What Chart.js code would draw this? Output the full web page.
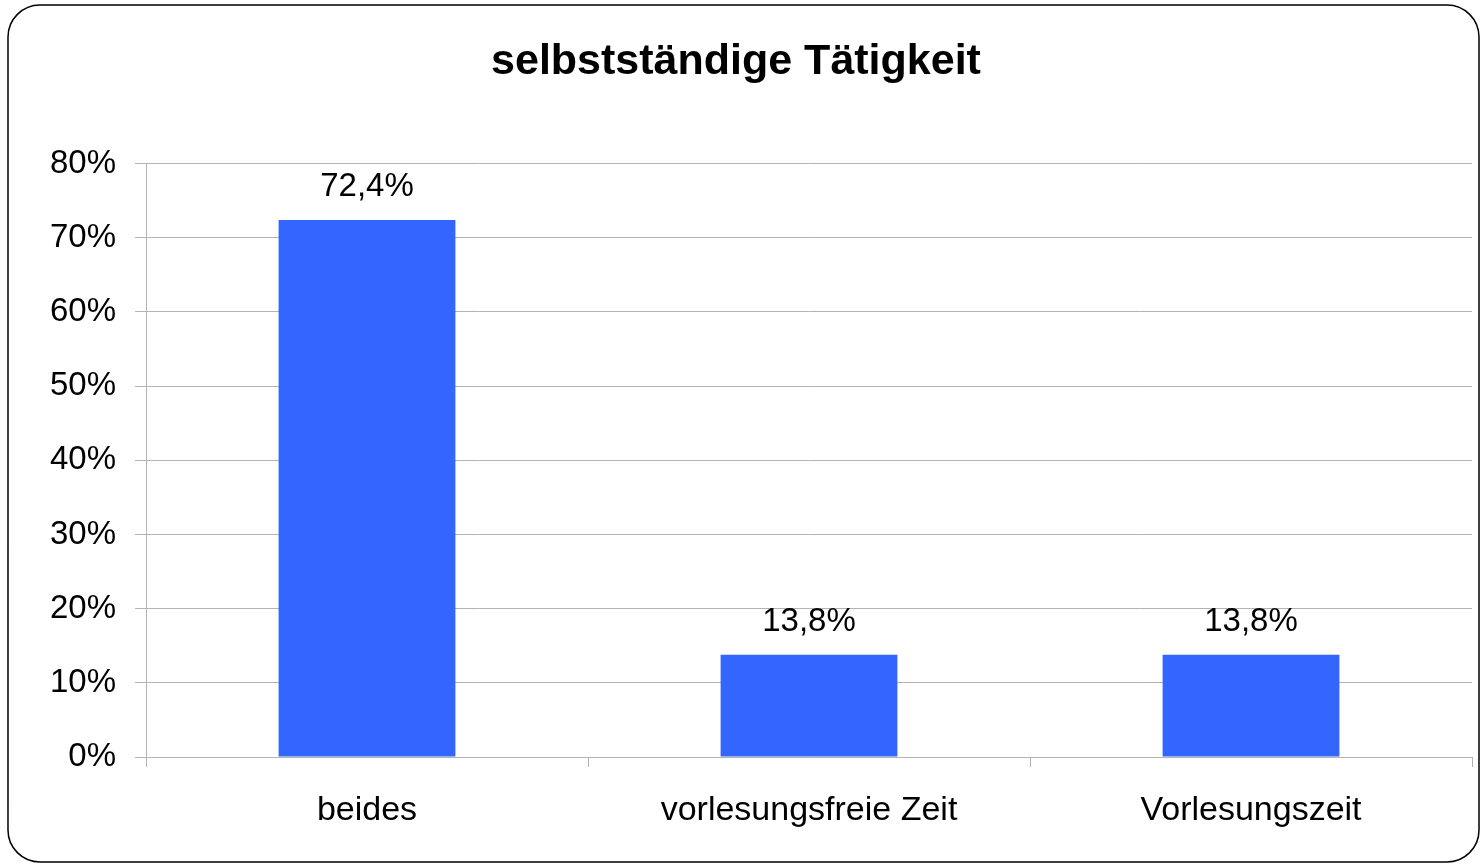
<!DOCTYPE html>
<html>
<head>
<meta charset="utf-8">
<script src="https://cdn.jsdelivr.net/npm/chart.js@4.4.0/dist/chart.umd.min.js"></script>
<style>
  html, body { margin: 0; padding: 0; background: #fff; }
  #wrap { width: 1482px; height: 865px; }
</style>
</head>
<body>
<div id="wrap"><canvas id="chart"></canvas></div>
<script>
const categories = ['beides', 'vorlesungsfreie Zeit', 'Vorlesungszeit'];
const shares = [72.4, 13.8, 13.8];
const yTicks = [0, 10, 20, 30, 40, 50, 60, 70, 80];

const fontFamily = '"Liberation Sans", Arial, sans-serif';
const gridColor = '#b3b3b3';

// rounded frame around the whole picture
const framePlugin = {
    id: 'frame',
    afterDraw(chart) {
        const ctx = chart.ctx;
        ctx.save();
        ctx.strokeStyle = '#000';
        ctx.lineWidth = 1.5;
        ctx.beginPath();
        ctx.roundRect(8, 5, 1471, 857, 32);
        ctx.stroke();
        ctx.restore();
    }
};

// value labels above the bars
const valueLabels = {
    id: 'valueLabels',
    afterDatasetsDraw(chart) {
        const ctx = chart.ctx;
        const meta = chart.getDatasetMeta(0);
        ctx.save();
        ctx.font = '33px ' + fontFamily;
        ctx.fillStyle = '#000';
        ctx.textAlign = 'center';
        ctx.textBaseline = 'middle';
        meta.data.forEach((bar, i) => {
            const txt = shares[i].toFixed(1).replace('.', ',') + '%';
            ctx.fillText(txt, bar.x, bar.y - 33);
        });
        ctx.restore();
    }
};

new Chart(document.getElementById('chart'), {
    type: 'bar',
    data: {
        labels: categories,
        datasets: [{
            data: shares,
            backgroundColor: '#3366ff',
            borderWidth: 0,
            barPercentage: 0.4,
            categoryPercentage: 1
        }]
    },
    options: {
        responsive: true,
        maintainAspectRatio: false,
        animation: false,
        layout: { padding: { left: 0, right: 10, top: 0, bottom: 0 } },
        plugins: {
            legend: { display: false },
            tooltip: { enabled: false },
            title: {
                display: true,
                text: 'selbstständige Tätigkeit',
                color: '#000',
                font: { family: fontFamily, size: 43, weight: 'bold', lineHeight: 1.2 },
                padding: { top: 36, bottom: 76 }
            }
        },
        scales: {
            x: {
                offset: true,
                grid: {
                    offset: true,
                    drawOnChartArea: false,
                    color: gridColor,
                    tickLength: 10
                },
                border: { color: gridColor },
                ticks: {
                    color: '#000',
                    padding: 23,
                    maxRotation: 0,
                    font: { family: fontFamily, size: 34 }
                },
                afterFit(scale) { scale.height = 108; }
            },
            y: {
                min: 0,
                max: 80,
                afterBuildTicks(scale) { scale.ticks = yTicks.map(v => ({ value: v })); },
                grid: { color: gridColor, tickLength: 11 },
                border: { color: gridColor },
                ticks: {
                    color: '#000',
                    padding: 19,
                    font: { family: fontFamily, size: 33 },
                    callback: v => v + '%'
                },
                afterFit(scale) { scale.width = 146; }
            }
        }
    },
    plugins: [framePlugin, valueLabels]
});
</script>
</body>
</html>
